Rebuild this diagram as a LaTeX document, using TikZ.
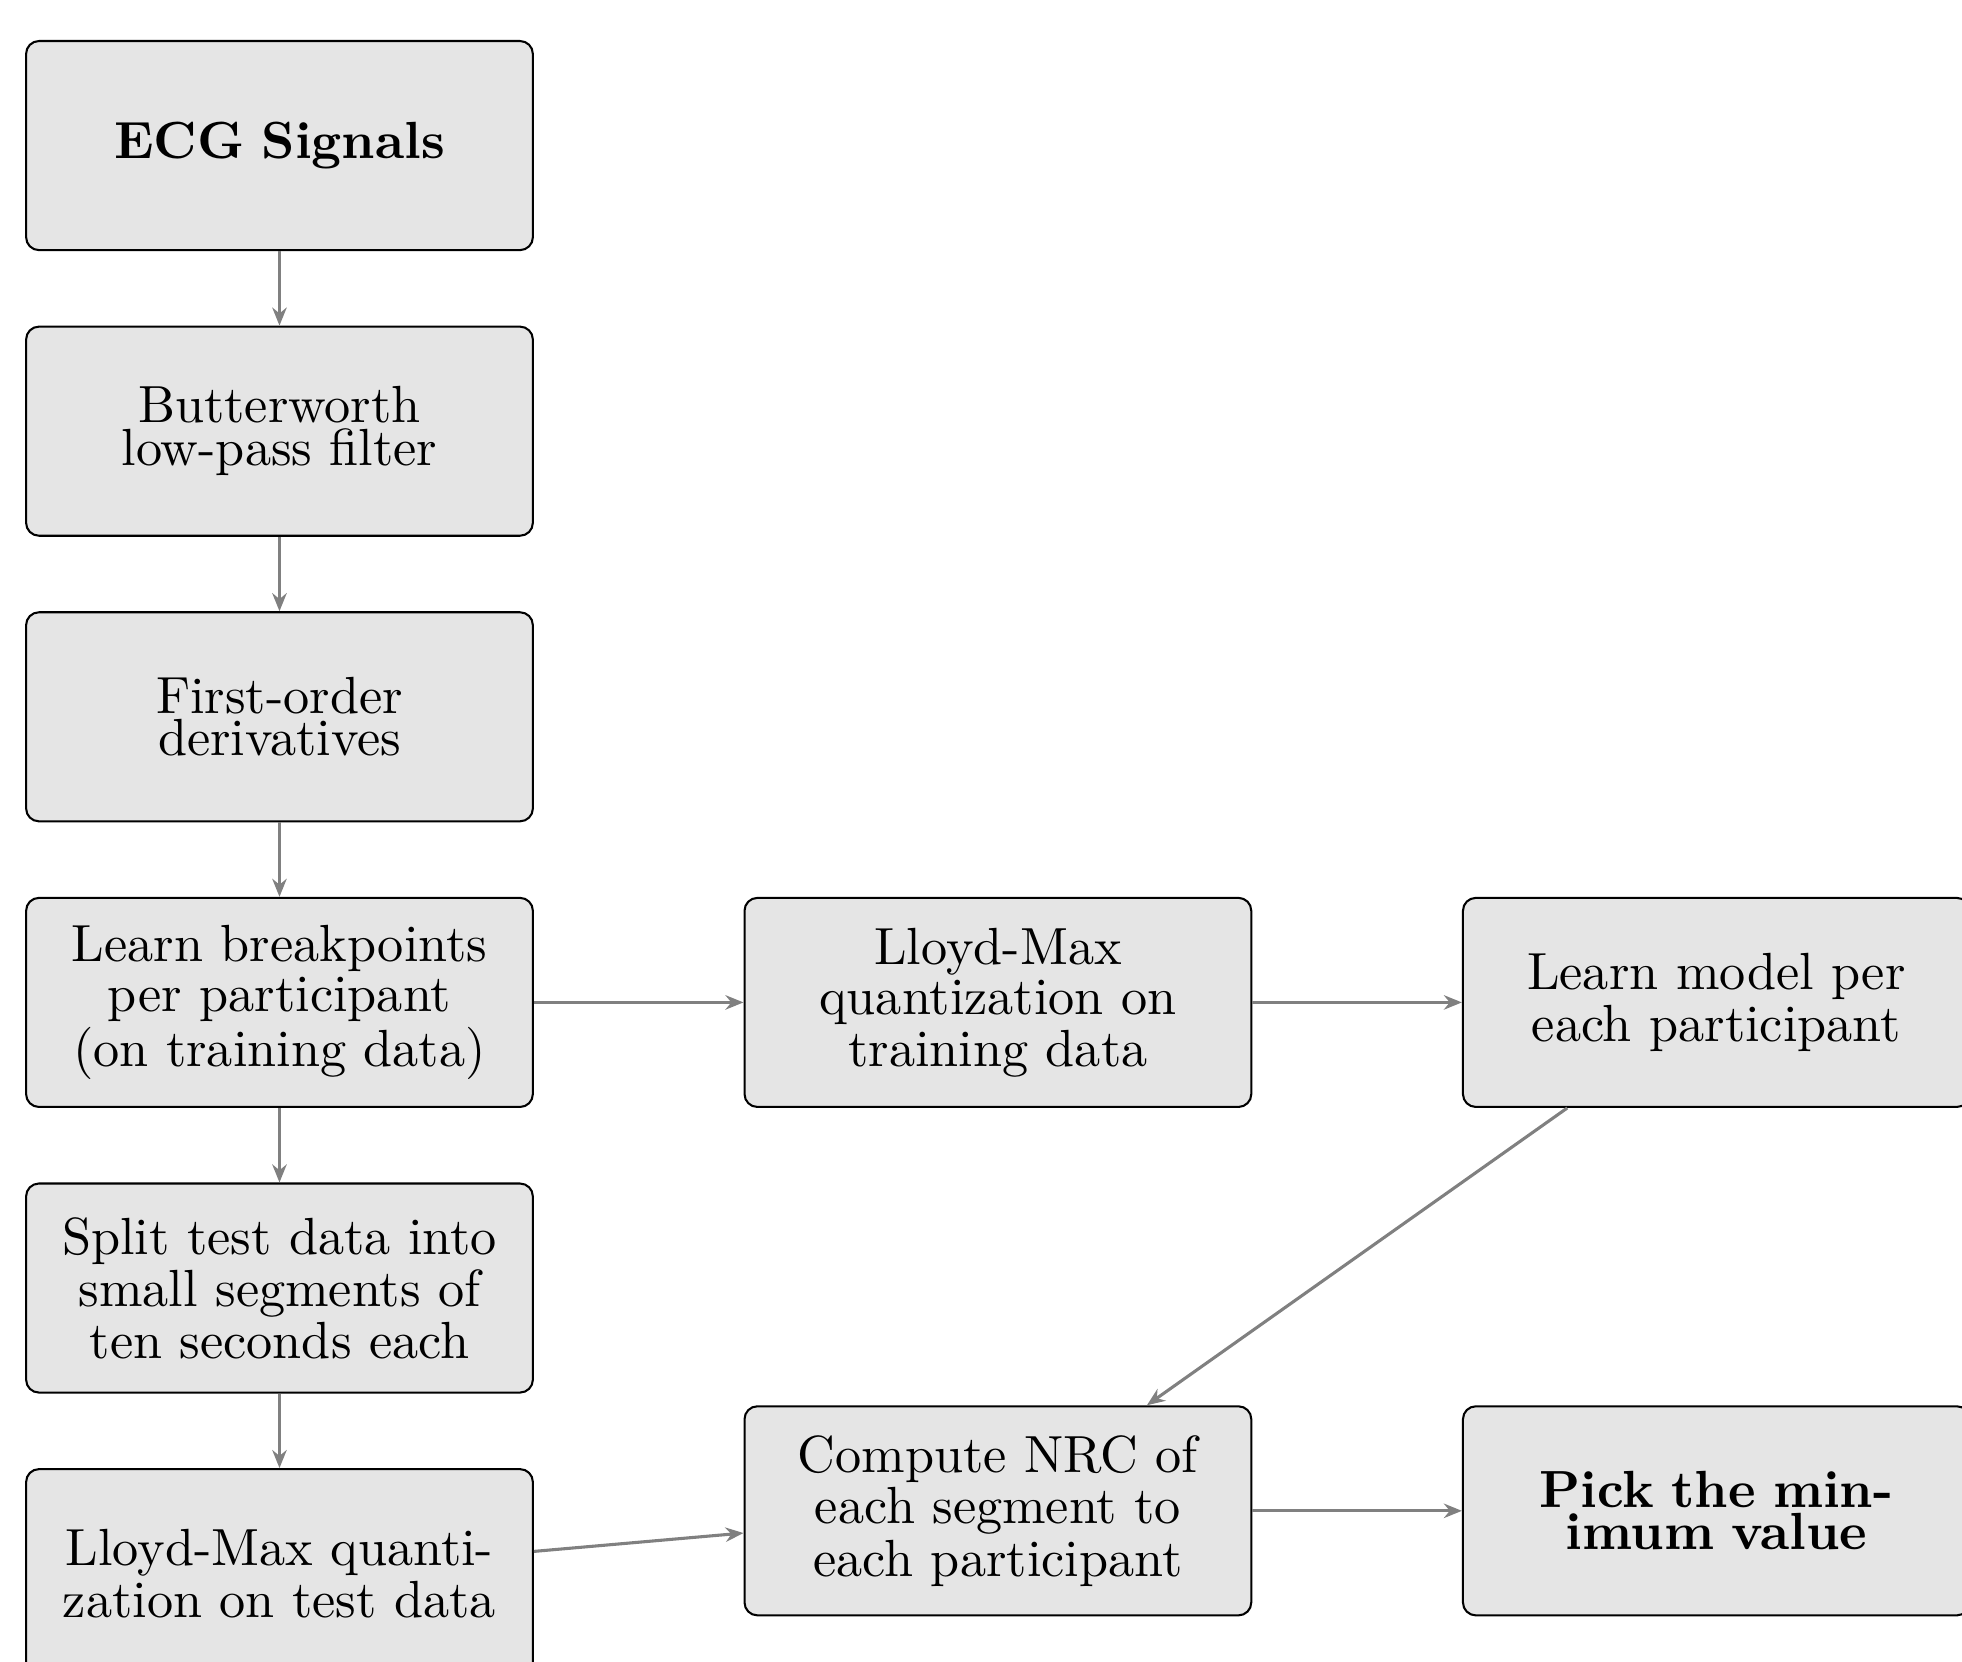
\documentclass[tikz,border=0pt]{standalone}
\usepackage{amsmath}
\usepackage{amssymb}
\usetikzlibrary{arrows.meta}

\tikzset{
    stage/.style={draw, rounded corners=2.5pt, fill=gray!20, align=center,
        text width=87pt, minimum width=98.4pt, minimum height=40.6pt,
        font=\fontsize{10.15}{0}\selectfont},
    flow/.style={-{Stealth[length=3.5pt,width=2.8pt]}, gray, semithick}
}

\begin{document}
\begin{tikzpicture}
            \useasboundingbox (-54.27pt,28.27pt) rectangle (326.7pt,-294.4pt);
            \clip (-54.27pt,28.27pt) rectangle (326.7pt,-294.4pt);

            % left column
            \node[stage] (ecg) at (0pt,0pt) {\bfseries ECG Signals};
            \node[stage] (butter) at (0pt,-55.46pt) {Butterworth low-pass filter};
            \node[stage] (deriv) at (0pt,-110.92pt) {First-order derivatives};
            \node[stage] (breaks) at (0pt,-166.38pt) {Learn breakpoints per participant (on training data)};
            \node[stage] (split) at (0pt,-221.84pt) {Split test data into small segments of ten seconds each};
            \node[stage] (lmtest) at (0pt,-277.3pt) {Lloyd-Max quanti-\\zation on test data};

            % middle and right
            \node[stage] (lmtrain) at (139.5pt,-166.38pt) {Lloyd-Max quantization on training data};
            \node[stage] (model) at (279pt,-166.38pt) {Learn model per each participant};
            \node[stage] (nrc) at (139.5pt,-265.1pt) {Compute NRC of each segment to each participant};
            \node[stage] (pick) at (279pt,-265.1pt) {\bfseries Pick the minimum value};

            \draw[flow] (ecg) -- (butter);
            \draw[flow] (butter) -- (deriv);
            \draw[flow] (deriv) -- (breaks);
            \draw[flow] (breaks) -- (split);
            \draw[flow] (split) -- (lmtest);

            \draw[flow] (breaks) -- (lmtrain);
            \draw[flow] (lmtrain) -- (model);
            \draw[flow] (model) -- (nrc);
            \draw[flow] (lmtest) -- (nrc);
            \draw[flow] (nrc) -- (pick);
        \end{tikzpicture}
\end{document}
